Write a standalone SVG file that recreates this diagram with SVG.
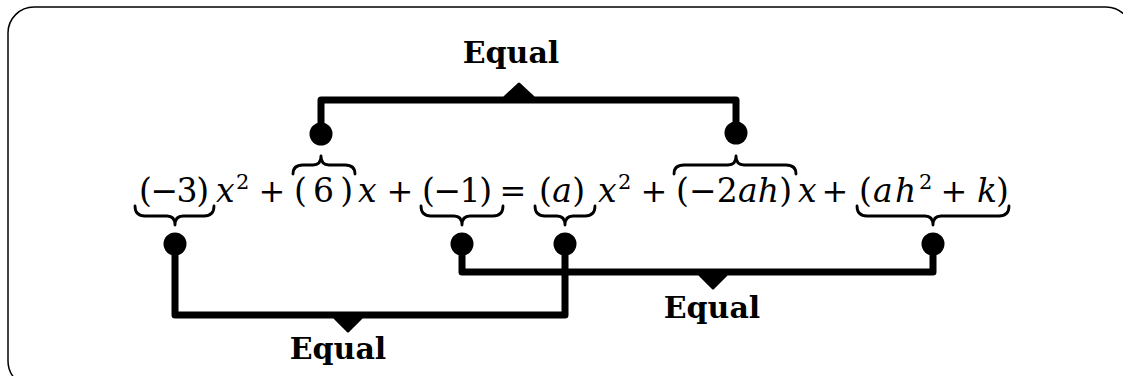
<svg xmlns="http://www.w3.org/2000/svg" width="1123" height="376" viewBox="0 0 1123 376">
<style>
.eq{font-family:"DejaVu Serif",serif;font-size:33px;fill:#000}
.it{font-style:italic}
.sup{font-family:"DejaVu Serif",serif;font-size:21px;fill:#000}
.op{font-family:"DejaVu Serif",serif;font-size:32px;fill:#000;text-anchor:middle}
.lbl{font-family:"DejaVu Serif",serif;font-weight:bold;font-size:30px;fill:#000;text-anchor:middle}
.brace{fill:none;stroke:#000;stroke-width:2.8;stroke-linecap:round;stroke-linejoin:round}
.conn{fill:none;stroke:#000;stroke-width:7;stroke-linejoin:round}
.tri{fill:#000;stroke:#000;stroke-width:3;stroke-linejoin:round}
.dot{fill:#000}
</style>
<rect x="8" y="7" width="1124" height="380" rx="26" ry="26" fill="#fff" stroke="#000" stroke-width="1.5"/>

<g id="equation">
  <text class="eq" x="139" y="202" textLength="70" lengthAdjust="spacing">(−3)</text>
  <text class="eq it" x="216" y="202">x</text>
  <text class="sup" x="236" y="189">2</text>
  <text class="op" x="272" y="202">+</text>
  <text class="eq" x="294" y="202" textLength="59" lengthAdjust="spacing">(6)</text>
  <text class="eq it" x="358" y="202">x</text>
  <text class="op" x="400" y="202">+</text>
  <text class="eq" x="422" y="202" textLength="70" lengthAdjust="spacing">(−1)</text>
  <text class="op" x="513" y="202">=</text>
  <text class="eq" x="539" y="202" textLength="46" lengthAdjust="spacing">(<tspan class="it">a</tspan>)</text>
  <text class="eq it" x="598" y="202">x</text>
  <text class="sup" x="618" y="189">2</text>
  <text class="op" x="654" y="202">+</text>
  <text class="eq" x="676" y="202" textLength="116" lengthAdjust="spacing">(−2<tspan class="it">ah</tspan>)</text>
  <text class="eq it" x="798" y="202">x</text>
  <text class="op" x="835" y="202">+</text>
  <text class="eq" x="859" y="202">(</text>
  <text class="eq it" x="873" y="202">a</text>
  <text class="eq it" x="895" y="202">h</text>
  <text class="sup" x="919" y="189">2</text>
  <text class="op" x="954" y="202">+</text>
  <text class="eq it" x="977" y="202">k</text>
  <text class="eq" x="996" y="202">)</text>
</g>

<g id="braces">
  <path class="brace" d="M293,174 Q293,165 303,165 L313,165 Q321,165 321,156 Q321,165 329,165 L345,165 Q355,165 355,174"/>
  <path class="brace" d="M674,174 Q674,165 684,165 L728,165 Q736,165 736,156 Q736,165 744,165 L786,165 Q796,165 796,174"/>
  <path class="brace" d="M135,206 Q135,216 145,216 L167,216 Q175,216 175,225 Q175,216 183,216 L204,216 Q214,216 214,206"/>
  <path class="brace" d="M421,206 Q421,216 431,216 L454,216 Q462,216 462,225 Q462,216 470,216 L493,216 Q503,216 503,206"/>
  <path class="brace" d="M535,206 Q535,216 545,216 L557,216 Q565,216 565,225 Q565,216 573,216 L585,216 Q595,216 595,206"/>
  <path class="brace" d="M857,206 Q857,216 867,216 L925,216 Q933,216 933,225 Q933,216 941,216 L999,216 Q1009,216 1009,206"/>
</g>

<g id="connectors">
  <path class="conn" d="M321,134 V100 H736 V133"/>
  <polygon class="tri" points="519,84 505,97 533,97"/>
  <path class="conn" d="M175,244 V315 H565 V244"/>
  <polygon class="tri" points="335,318 361,318 348,331"/>
  <path class="conn" d="M462,244 V272 H933 V244"/>
  <polygon class="tri" points="700,275 726,275 713,288"/>
</g>

<g id="dots">
  <circle class="dot" cx="321" cy="134" r="11.5"/>
  <circle class="dot" cx="736" cy="133" r="11.5"/>
  <circle class="dot" cx="175" cy="244" r="11.5"/>
  <circle class="dot" cx="462" cy="244" r="11.5"/>
  <circle class="dot" cx="565" cy="244" r="11.5"/>
  <circle class="dot" cx="933" cy="244" r="11.5"/>
</g>

<g id="label-top"><text class="lbl" x="511" y="63">Equal</text></g>
<g id="label-bottom-left"><text class="lbl" x="338" y="359">Equal</text></g>
<g id="label-bottom-right"><text class="lbl" x="712" y="318">Equal</text></g>
</svg>
